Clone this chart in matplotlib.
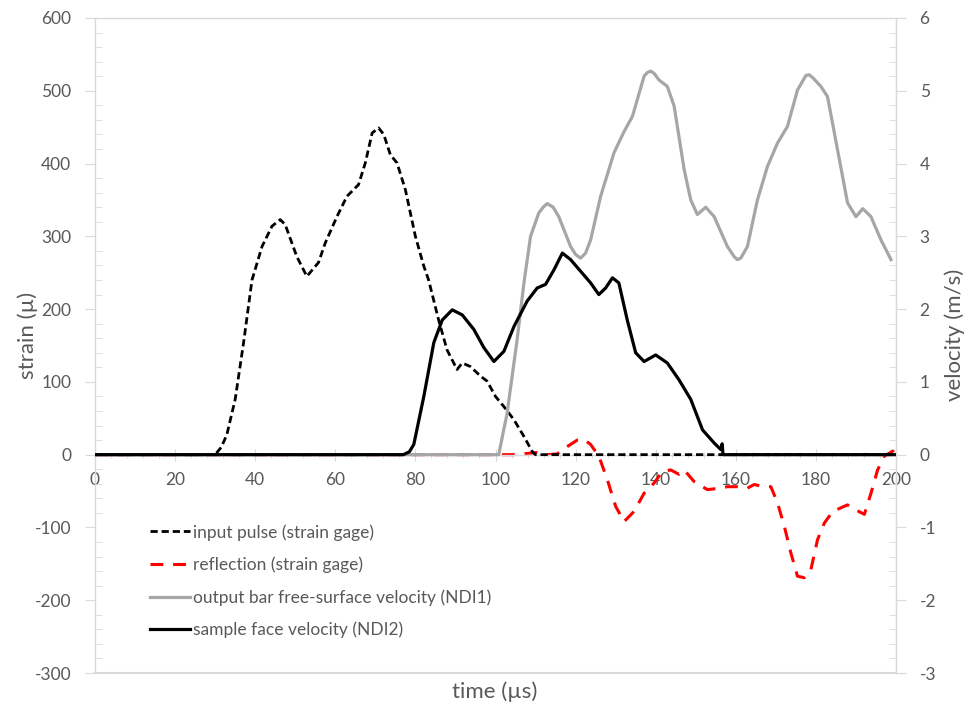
import matplotlib
matplotlib.use("Agg")
import matplotlib.pyplot as plt
from matplotlib.ticker import MultipleLocator

plt.rcParams['font.family'] = ['Lato', 'DejaVu Sans']
plt.rcParams['axes.unicode_minus'] = False

# input pulse (strain gage) - microstrain vs time (us)
pulse_t = [0, 30, 31.5, 32.9, 35, 37.1, 39.2, 41.7, 44.2, 46.25,
           47.5, 50.4, 52.9, 55.8, 57.5, 60.4, 62.9, 65.8, 67.5, 69.2,
           70.8, 72.1, 73.75, 75.4, 77.5, 80, 82.1, 83.3, 85.8, 87.9,
           90.4, 91.7, 93.75, 96.25, 97.9, 100, 102.1, 104.6, 107.1, 109.2,
           110, 200]
pulse_s = [0, 0, 10, 27, 76, 154, 240, 286, 314, 323,
           316, 272, 245, 264, 291, 327, 355, 371, 401, 442,
           449, 440, 412, 401, 364, 300, 259, 240, 185, 144,
           117, 126, 121, 108, 101, 80, 66, 48, 25, 4,
           0, 0]

# reflection (strain gage)
refl_t = [0, 104.6, 110.4, 113, 115.4, 117.9, 120.4, 122.1, 123.75, 125.8,
          127.9, 130, 132.1, 134.6, 137.1, 139.6, 141.7, 143.75, 145.8, 147.1,
          149.6, 152.9, 156.25, 157.9, 160.4, 162.9, 164.6, 167.1, 168.75, 170.4,
          172.1, 173.75, 175.4, 177.1, 178.75, 180.4, 182.1, 184.2, 186.25, 187.9,
          190, 192.1, 193.75, 195.4, 197.1, 199.2, 200]
refl_s = [0, 0, 3, 0, 1, 11, 20, 21, 14, -2,
          -34, -71, -92, -78, -53, -39, -23, -21, -27, -21,
          -37, -48, -46, -44, -44, -46, -41, -44, -44, -66,
          -98, -135, -167, -169, -158, -117, -94, -78, -73, -69,
          -76, -82, -53, -21, -2, 5, 0]

# output bar free-surface velocity (NDI1), m/s
out_t = [0, 100.8, 102.9, 105.4, 107.1, 108.75, 110.8, 111.9, 112.9, 114.4,
         115.8, 118.75, 120, 121.25, 122.5, 123.75, 126.25, 129.6, 132.1, 134.2,
         137.1, 137.9, 138.75, 139.6, 140.8, 142.9, 144.6, 147.1, 148.75, 150.4,
         152.5, 154.6, 157.9, 159.6, 160.4, 161.25, 162.9, 165.4, 167.9, 170.4,
         172.9, 175.4, 177.5, 178.3, 179.2, 181.25, 182.9, 185.4, 187.9, 190,
         191.7, 193.75, 196.25, 198.75]
out_v = [0, 0, 0.57, 1.58, 2.36, 3.0, 3.32, 3.40, 3.45, 3.40,
         3.27, 2.86, 2.75, 2.70, 2.77, 2.95, 3.55, 4.15, 4.44, 4.65,
         5.20, 5.25, 5.27, 5.24, 5.15, 5.06, 4.79, 3.92, 3.50, 3.30,
         3.40, 3.27, 2.86, 2.72, 2.68, 2.70, 2.86, 3.50, 3.96, 4.28,
         4.51, 5.01, 5.21, 5.22, 5.18, 5.06, 4.92, 4.19, 3.46, 3.27,
         3.38, 3.27, 2.95, 2.68]

# sample face velocity (NDI2), m/s
face_t = [0, 77, 78.5, 79.6, 82.1, 84.6, 86.7, 89.2, 91.7, 94.6,
          97.1, 99.6, 102.1, 104.6, 107.9, 110.4, 112.5, 114.6, 116.7, 118.75,
          121.25, 123.75, 125.8, 127.5, 129.2, 130.8, 132.9, 135, 137.1, 140,
          142.9, 145.8, 148.75, 151.7, 154.6, 156.25, 156.6, 156.8, 200]
face_v = [0, 0, 0.04, 0.14, 0.8, 1.54, 1.85, 1.99, 1.92, 1.72,
          1.47, 1.28, 1.42, 1.76, 2.11, 2.29, 2.34, 2.54, 2.77, 2.68,
          2.52, 2.36, 2.20, 2.29, 2.43, 2.36, 1.85, 1.40, 1.28, 1.37,
          1.26, 1.03, 0.76, 0.34, 0.16, 0.07, 0.15, 0, 0]

TXT = "#595959"
AXC = "#D9D9D9"

fig = plt.figure(figsize=(9.76, 7.07), dpi=100)
ax = fig.add_axes([95 / 976, 1 - 673 / 707, (896 - 95) / 976, (673 - 18) / 707])
ax2 = ax.twinx()

joins = dict(solid_joinstyle='round', dash_joinstyle='round')
l1, = ax.plot(pulse_t, pulse_s, color="black", lw=2.0, dashes=(2.6, 1.4),
              label="input pulse (strain gage)", zorder=3, **joins)
l2, = ax.plot(refl_t, refl_s, color="red", lw=2.2, dashes=(4.2, 3.2),
              label="reflection (strain gage)", zorder=2, **joins)
l3, = ax2.plot(out_t, out_v, color="#A6A6A6", lw=2.3,
               label="output bar free-surface velocity (NDI1)", zorder=2, **joins)
l4, = ax2.plot(face_t, face_v, color="black", lw=2.3,
               label="sample face velocity (NDI2)", zorder=3, **joins)

ax.set_xlim(0, 200)
ax.set_ylim(-300, 600)
ax2.set_ylim(-3, 6)

# x axis crosses at zero strain
ax.spines['bottom'].set_position(('data', 0))
for s in ['left', 'top', 'right', 'bottom']:
    ax.spines[s].set_color(AXC)
    ax.spines[s].set_linewidth(1.0)
for s in ['left', 'top', 'bottom']:
    ax2.spines[s].set_visible(False)
ax2.spines['right'].set_color(AXC)
ax.axhline(-300, color=AXC, lw=1.5, clip_on=False, zorder=0)

ax.xaxis.set_major_locator(MultipleLocator(20))
ax.xaxis.set_minor_locator(MultipleLocator(4))
ax.yaxis.set_major_locator(MultipleLocator(100))
ax.yaxis.set_minor_locator(MultipleLocator(20))
ax2.yaxis.set_major_locator(MultipleLocator(1))
ax2.yaxis.set_minor_locator(MultipleLocator(0.2))

ax.tick_params(axis='x', which='major', direction='inout', length=9, color=AXC,
               labelsize=12.5, labelcolor=TXT, pad=8)
ax.tick_params(axis='x', which='minor', direction='inout', length=5, color=AXC)
ax.tick_params(axis='y', which='major', direction='out', length=7, color=AXC,
               labelsize=12.5, labelcolor=TXT, pad=10)
ax.tick_params(axis='y', which='minor', direction='in', length=5, color=AXC)
ax2.tick_params(axis='y', which='major', direction='out', length=7, color=AXC,
                labelsize=12.5, labelcolor=TXT, pad=10)
ax2.tick_params(axis='y', which='minor', direction='in', length=5, color=AXC)

fig.text(28 / 976, 1 - 335 / 707, "strain (µ)", rotation=90, ha='center', va='center',
         fontsize=16, color=TXT)
fig.text(955 / 976, 1 - 335 / 707, "velocity (m/s)", rotation=90, ha='center', va='center',
         fontsize=16, color=TXT)
fig.text(495 / 976, 1 - 692 / 707, "time (µs)", ha='center', va='center',
         fontsize=16, color=TXT)

leg = ax2.legend(handles=[l1, l2, l3, l4], loc='upper left',
                 bbox_to_anchor=(150 / 976, 1 - 524 / 707), bbox_transform=fig.transFigure,
                 frameon=False, fontsize=12.5, handlelength=2.3, handletextpad=0.2,
                 labelspacing=0.92, borderpad=0, borderaxespad=0)
for t in leg.get_texts():
    t.set_color(TXT)

fig.savefig("out.png", dpi=100)
